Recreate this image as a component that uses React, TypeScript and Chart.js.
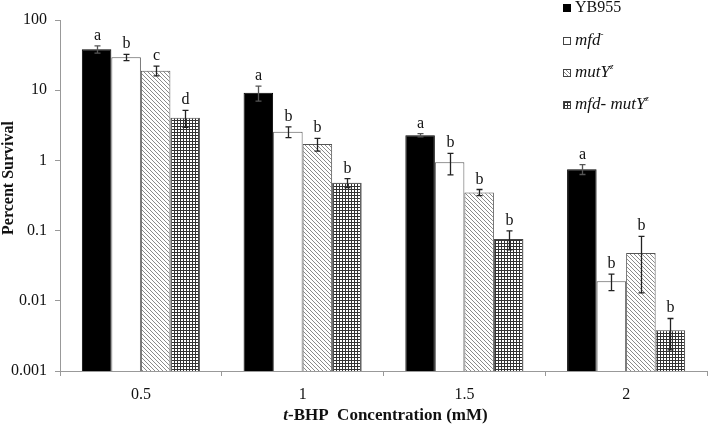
import { useEffect, useRef } from "react";
import { Chart, registerables } from "chart.js";
Chart.register(...registerables);

const categories = ["0.5", "1", "1.5", "2"];
const seriesNames = ["YB955", "mfd", "mutY", "mfd- mutY"];
const yb955 = [38.3, 9.2, 2.28, 0.75];
const mfd = [29.4, 2.56, 0.94, 0.019];
const mutY = [19, 1.71, 0.35, 0.048];
const mfdMutY = [4.06, 0.48, 0.076, 0.0038];
const yb955Err = [4.5, 2.2, 0.12, 0.12];
const mfdErr = [3, 0.45, 0.32, 0.005];
const mutYErr = [3, 0.35, 0.035, 0.035];
const mfdMutYErr = [1.1, 0.07, 0.023, 0.0018];
const yb955Letters = ["a", "a", "a", "a"];
const mfdLetters = ["b", "b", "b", "b"];
const mutYLetters = ["c", "b", "b", "b"];
const mfdMutYLetters = ["d", "b", "b", "b"];
const yTickValues = [0.001, 0.01, 0.1, 1, 10, 100];
const xTitle = ["t", "-BHP  Concentration (mM)"];
const yTitle = "Percent Survival";

const FONT = "'Liberation Serif', 'Times New Roman', serif";

function makeDiagonal(): CanvasPattern | string {
  const c = document.createElement("canvas");
  c.width = 4;
  c.height = 4;
  const g = c.getContext("2d");
  if (!g) return "#ccc";
  g.fillStyle = "#ffffff";
  g.fillRect(0, 0, 4, 4);
  g.fillStyle = "#8a8a8a";
  for (let i = 0; i < 4; i++) g.fillRect(i, i, 1, 1);
  return g.createPattern(c, "repeat") || "#ccc";
}

function makeGrid(): CanvasPattern | string {
  const c = document.createElement("canvas");
  c.width = 3;
  c.height = 3;
  const g = c.getContext("2d");
  if (!g) return "#888";
  g.fillStyle = "#ffffff";
  g.fillRect(0, 0, 3, 3);
  g.fillStyle = "#333333";
  g.fillRect(0, 0, 3, 1);
  g.fillRect(0, 0, 1, 3);
  return g.createPattern(c, "repeat") || "#888";
}

export default function App() {
  const ref = useRef<HTMLCanvasElement | null>(null);

  useEffect(() => {
    document.body.style.margin = "0";
    const canvas = ref.current;
    if (!canvas) return;
    const diag = makeDiagonal();
    const grid = makeGrid();
    const values = [yb955, mfd, mutY, mfdMutY];
    const errs = [yb955Err, mfdErr, mutYErr, mfdMutYErr];
    const letters = [yb955Letters, mfdLetters, mutYLetters, mfdMutYLetters];
    const fills: any[] = ["#000000", "#ffffff", diag, grid];
    const borders = ["#000000", "#555555", "#555555", "#444444"];

    const overlay = {
      id: "overlay",
      afterDatasetsDraw(chart: any) {
        const ctx = chart.ctx as CanvasRenderingContext2D;
        const y = chart.scales.y;
        ctx.save();
        for (let d = 0; d < values.length; d++) {
          const meta = chart.getDatasetMeta(d);
          meta.data.forEach((el: any, i: number) => {
            const v = values[d][i];
            const e = errs[d][i];
            const x = Math.round(el.x) + 0.5;
            const top = y.getPixelForValue(v + e);
            const bot = y.getPixelForValue(Math.max(v - e, 0.0011));
            ctx.strokeStyle = d === 0 ? "#555555" : "#222222";
            ctx.lineWidth = 1.3;
            ctx.beginPath();
            ctx.moveTo(x, top);
            ctx.lineTo(x, bot);
            ctx.moveTo(x - 3, top);
            ctx.lineTo(x + 3, top);
            ctx.moveTo(x - 3, bot);
            ctx.lineTo(x + 3, bot);
            ctx.stroke();
            ctx.fillStyle = "#111111";
            ctx.font = `16px ${FONT}`;
            ctx.textAlign = "center";
            ctx.textBaseline = "alphabetic";
            ctx.fillText(letters[d][i], x, top - 6);
          });
        }
        ctx.restore();
      },
      afterDraw(chart: any) {
        const ctx = chart.ctx as CanvasRenderingContext2D;
        const area = chart.chartArea;
        ctx.save();
        ctx.fillStyle = "#111111";
        // x title
        ctx.textBaseline = "middle";
        ctx.textAlign = "left";
        ctx.font = `italic bold 17px ${FONT}`;
        const w1 = ctx.measureText(xTitle[0]).width;
        ctx.font = `bold 17px ${FONT}`;
        const w2 = ctx.measureText(xTitle[1]).width;
        const cx = (area.left + area.right) / 2 + 2;
        const sx = cx - (w1 + w2) / 2;
        ctx.font = `italic bold 17px ${FONT}`;
        ctx.fillText(xTitle[0], sx, 416);
        ctx.font = `bold 17px ${FONT}`;
        ctx.fillText(xTitle[1], sx + w1, 416);
        // y title
        ctx.save();
        ctx.translate(9, 178);
        ctx.rotate(-Math.PI / 2);
        ctx.textAlign = "center";
        ctx.font = `bold 16px ${FONT}`;
        ctx.fillText(yTitle, 0, 0);
        ctx.restore();
        // legend
        const ys = [8, 41, 73, 105];
        for (let d = 0; d < seriesNames.length; d++) {
          const by = ys[d];
          ctx.fillStyle = fills[d];
          ctx.fillRect(563, by - 4, 8, 8);
          ctx.strokeStyle = d === 0 ? "#000" : "#444";
          ctx.lineWidth = 1;
          ctx.strokeRect(563.5, by - 3.5, 7, 7);
          ctx.fillStyle = "#111111";
          ctx.textAlign = "left";
          ctx.textBaseline = "middle";
          let tx = 575;
          const name = seriesNames[d];
          if (d === 0) {
            ctx.font = `16px ${FONT}`;
            ctx.fillText(name, tx, by);
          } else {
            ctx.font = `italic 17px ${FONT}`;
            ctx.fillText(name, tx, by);
            tx += ctx.measureText(name).width;
            ctx.font = `italic 9px ${FONT}`;
            ctx.fillText(d === 1 ? "-" : "z", tx, by - 6);
          }
        }
        ctx.restore();
      },
    };

    const chart = new Chart(canvas, {
      type: "bar",
      data: {
        labels: categories,
        datasets: seriesNames.map((n, d) => ({
          label: n,
          data: values[d],
          backgroundColor: fills[d],
          borderColor: borders[d],
          borderWidth: 1,
          categoryPercentage: 0.73,
          barPercentage: 1,
        })),
      },
      options: {
        responsive: true,
        maintainAspectRatio: false,
        animation: false,
        events: [],
        layout: { padding: { top: 20, right: 2, left: 0, bottom: 0 } },
        plugins: { legend: { display: false }, tooltip: { enabled: false } },
        scales: {
          x: {
            type: "category",
            offset: true,
            grid: {
              offset: true,
              drawOnChartArea: false,
              drawTicks: true,
              tickLength: 5,
              color: "#999999",
            },
            border: { color: "#999999", width: 1 },
            ticks: {
              color: "#111111",
              font: { family: FONT, size: 16 },
              padding: 9,
              maxRotation: 0,
            },
            afterFit: (s: any) => {
              s.height = 55;
            },
          },
          y: {
            type: "logarithmic",
            min: 0.001,
            max: 100,
            afterBuildTicks: (s: any) => {
              s.ticks = yTickValues.map((v) => ({ value: v }));
            },
            grid: {
              drawOnChartArea: false,
              drawTicks: true,
              tickLength: 5,
              color: "#999999",
            },
            border: { color: "#999999", width: 1 },
            ticks: {
              color: "#111111",
              font: { family: FONT, size: 16 },
              padding: 8,
              callback: (v: any) => String(v),
            },
            afterFit: (s: any) => {
              s.width = 60;
            },
          },
        },
      },
      plugins: [overlay],
    });
    return () => chart.destroy();
  }, []);

  return (
    <div style={{ width: 709, height: 426, position: "relative", background: "#fff" }}>
      <canvas ref={ref} />
    </div>
  );
}
